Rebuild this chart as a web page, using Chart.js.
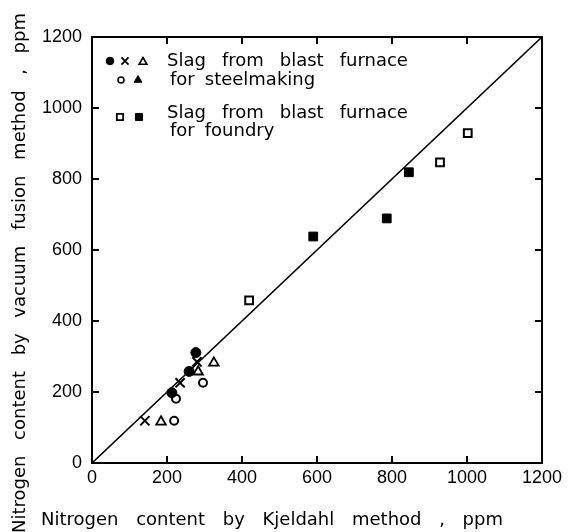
<!DOCTYPE html>
<html>
<head>
<meta charset="utf-8">
<script src="https://cdn.jsdelivr.net/npm/chart.js@4.4.1/dist/chart.umd.min.js"></script>
<style>
    html, body { margin: 0; padding: 0; background: #fff; }
    #wrap { width: 568px; height: 532px; }
</style>
</head>
<body>
<div id="wrap"><canvas id="chart" width="568" height="532"></canvas></div>
<script>
// Kjeldahl (x) vs vacuum fusion (y), ppm
const filledCircleX = [277, 259, 213];
const filledCircleY = [311, 258, 198];
const crossX = [141, 235, 280];
const crossY = [119, 226, 285];
const openTriangleX = [184, 283, 325];
const openTriangleY = [116, 257, 282];
const openCircleX = [219, 224, 296];
const openCircleY = [119, 181, 226];
const filledTriangleX = [];
const filledTriangleY = [];
const openSquareX = [419, 928, 1002];
const openSquareY = [458, 847, 929];
const filledSquareX = [590, 786, 845];
const filledSquareY = [638, 689, 819];
const lineX = [0, 1200];
const lineY = [0, 1200];

const tickValues = [0, 200, 400, 600, 800, 1000, 1200];
const xTitle = 'Nitrogen content by Kjeldahl method , ppm';
const yTitle = 'Nitrogen content by vacuum fusion method , ppm';
const legendRows = [
    'Slag from blast furnace',
    'for steelmaking',
    'Slag from blast furnace',
    'for foundry'
];

const TEXT_FONT = '18px "DejaVu Sans"';

function pts(xs, ys) {
    return xs.map((x, i) => ({ x: x, y: ys[i] }));
}

function marker(label, xs, ys, style, radius, filled, bw) {
    return {
        label: label,
        data: pts(xs, ys),
        pointStyle: style,
        pointRadius: radius,
        pointHoverRadius: radius,
        pointBackgroundColor: filled ? '#000' : '#fff',
        pointBorderColor: '#000',
        pointBorderWidth: bw,
        showLine: false,
        order: 1
    };
}

// draw words spread over a given length
function spreadWords(ctx, text, x, y, length) {
    const words = text.split(' ');
    const widths = words.map(w => ctx.measureText(w).width);
    const total = widths.reduce((a, b) => a + b, 0);
    const gap = (length - total) / (words.length - 1);
    let cx = x;
    words.forEach((w, i) => {
        ctx.fillText(w, cx, y);
        cx += widths[i] + gap;
    });
}

function gapWords(ctx, text, x, y, gap) {
    let cx = x;
    text.split(' ').forEach(w => {
        ctx.fillText(w, cx, y);
        cx += ctx.measureText(w).width + gap;
    });
}

function legendMarker(ctx, style, r, filled, bw, x, y) {
    ctx.save();
    ctx.fillStyle = filled ? '#000' : '#fff';
    ctx.strokeStyle = '#000';
    ctx.lineWidth = bw;
    Chart.helpers.drawPoint(ctx, { pointStyle: style, radius: r, rotation: 0, borderWidth: bw }, x, y);
    ctx.restore();
}

const framePlugin = {
    id: 'frameAndTicks',
    afterDraw: function(chart) {
        const ctx = chart.ctx;
        const a = chart.chartArea;
        const xs = chart.scales.x;
        const ys = chart.scales.y;
        const tl = 7;
        ctx.save();
        ctx.strokeStyle = '#000';
        ctx.lineWidth = 2;
        ctx.strokeRect(a.left, a.top, a.right - a.left, a.bottom - a.top);
        ctx.beginPath();
        tickValues.forEach(v => {
            const px = xs.getPixelForValue(v);
            ctx.moveTo(px, a.bottom); ctx.lineTo(px, a.bottom - tl);
            ctx.moveTo(px, a.top); ctx.lineTo(px, a.top + tl);
            const py = ys.getPixelForValue(v);
            ctx.moveTo(a.left, py); ctx.lineTo(a.left + tl, py);
            ctx.moveTo(a.right, py); ctx.lineTo(a.right - tl, py);
        });
        ctx.stroke();

        // axis titles
        ctx.fillStyle = '#000';
        ctx.font = TEXT_FONT;
        ctx.textBaseline = 'middle';
        ctx.textAlign = 'left';
        spreadWords(ctx, xTitle, 41, 520, 462);
        ctx.save();
        ctx.translate(20, 533);
        ctx.rotate(-Math.PI / 2);
        spreadWords(ctx, yTitle, 0, 0, 520);
        ctx.restore();

        // legend
        legendMarker(ctx, 'circle', 3.8, true, 1, 110, 61);
        legendMarker(ctx, 'crossRot', 5, false, 1.8, 125, 61);
        legendMarker(ctx, 'triangle', 4.5, false, 1.6, 143, 62);
        legendMarker(ctx, 'circle', 3, false, 1.6, 121, 80);
        legendMarker(ctx, 'triangle', 4.5, true, 1, 138, 80);
        legendMarker(ctx, 'rect', 4.5, false, 1.8, 120, 117);
        legendMarker(ctx, 'rect', 5, true, 1, 139, 117);
        ctx.fillStyle = '#000';
        gapWords(ctx, legendRows[0], 167, 61, 16);
        gapWords(ctx, legendRows[1], 170, 80, 10);
        gapWords(ctx, legendRows[2], 167, 113, 16);
        gapWords(ctx, legendRows[3], 170, 131, 10);
        ctx.restore();
    }
};

const tickFont = { family: 'Liberation Sans', size: 18 };

const config = {
    type: 'scatter',
    data: {
        datasets: [
            marker('filled circle', filledCircleX, filledCircleY, 'circle', 5, true, 1),
            marker('cross', crossX, crossY, 'crossRot', 6.5, false, 2),
            marker('open triangle', openTriangleX, openTriangleY, 'triangle', 5.5, false, 1.8),
            marker('open circle', openCircleX, openCircleY, 'circle', 4, false, 2),
            marker('filled triangle', filledTriangleX, filledTriangleY, 'triangle', 5.5, true, 1),
            marker('open square', openSquareX, openSquareY, 'rect', 5.5, false, 2),
            marker('filled square', filledSquareX, filledSquareY, 'rect', 6.2, true, 1),
            {
                type: 'line',
                label: 'y = x',
                data: pts(lineX, lineY),
                borderColor: '#000',
                borderWidth: 1.6,
                pointRadius: 0,
                fill: false,
                order: 2
            }
        ]
    },
    plugins: [framePlugin],
    options: {
        responsive: false,
        animation: false,
        layout: { padding: { top: 37, right: 26, left: 0, bottom: 0 } },
        plugins: {
            legend: { display: false },
            tooltip: { enabled: false }
        },
        scales: {
            x: {
                type: 'linear',
                min: 0,
                max: 1200,
                grid: { display: false, drawTicks: false },
                border: { display: false },
                ticks: {
                    stepSize: 200, color: '#000', font: tickFont, padding: 4, maxRotation: 0,
                    callback: v => String(v)
                },
                afterFit: function(scale) { scale.height = 69; }
            },
            y: {
                type: 'linear',
                min: 0,
                max: 1200,
                grid: { display: false, drawTicks: false },
                border: { display: false },
                ticks: {
                    stepSize: 200, color: '#000', font: tickFont, padding: 10,
                    callback: v => String(v)
                },
                afterFit: function(scale) { scale.width = 92; }
            }
        }
    }
};

new Chart(document.getElementById('chart'), config);
</script>
</body>
</html>
